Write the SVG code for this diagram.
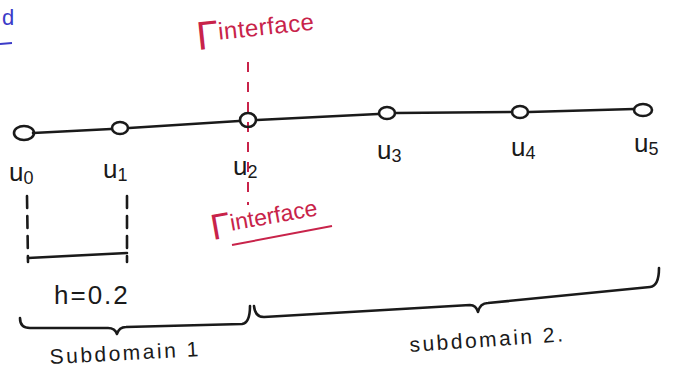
<svg xmlns="http://www.w3.org/2000/svg" width="676" height="371" viewBox="0 0 676 371">
<style>
.ink{fill:none;stroke:#1a1a1a;stroke-width:2.6;stroke-linecap:round;stroke-linejoin:round}
.node{fill:none;stroke:#1a1a1a;stroke-width:2.6}
.lbl{font-family:"Liberation Sans",Arial,sans-serif;font-size:26px;fill:#1a1a1a}
.sub{font-size:18px}
.red{font-family:"Liberation Sans",Arial,sans-serif;fill:#c8234a}
.dash{fill:none;stroke:#1a1a1a;stroke-width:2.6;stroke-dasharray:12 8;stroke-linecap:round}
.rdash{fill:none;stroke:#c8234a;stroke-width:2;stroke-dasharray:10 10}
.note{font-family:"Liberation Sans",Arial,sans-serif;font-size:21px;fill:#1a1a1a;letter-spacing:2.5px}
</style>
<rect width="676" height="371" fill="#ffffff"/>
<g id="blue-marks">
<text x="2" y="25" font-family="Liberation Sans,Arial,sans-serif" font-size="22" fill="#3b3bc8">d</text>
<path d="M0 44 L12 43" stroke="#3b3bc8" stroke-width="2" fill="none"/>
</g>
<g id="connectors">
<path class="ink" d="M33 133 L111 129 M129 128 L239 121 M257 120 L378 114 M396 113 L512 112 M529 112 L634 109"/>
<path class="rdash" d="M248 62 L248 205"/>
<path class="dash" d="M27 196 L28 262 M127 196 L127 262"/>
<path class="ink" d="M28 258 L127 253"/>
<path class="ink" d="M20 318 Q20 328 30 328 L108 328 Q115 328 117 334 Q119 327 126 327 L242 324 Q250 323 250 306"/>
<path class="ink" d="M254 306 Q255 317 264 317 L470 305 Q476 305 478 312 Q480 303 488 303 L650 287 Q659 286 659 268"/>
</g>
<g id="u0"><ellipse class="node" cx="24" cy="133" rx="10" ry="7"/><text class="lbl" x="9" y="181">u<tspan class="sub" dy="3">0</tspan></text></g>
<g id="u1"><ellipse class="node" cx="120" cy="128" rx="8" ry="6"/><text class="lbl" x="103" y="178">u<tspan class="sub" dy="3">1</tspan></text></g>
<g id="u2"><ellipse class="node" cx="248" cy="120" rx="8" ry="7"/><text class="lbl" x="233" y="175">u<tspan class="sub" dy="3">2</tspan></text></g>
<g id="u3"><ellipse class="node" cx="387" cy="113" rx="8" ry="6"/><text class="lbl" x="377" y="159">u<tspan class="sub" dy="3">3</tspan></text></g>
<g id="u4"><ellipse class="node" cx="520" cy="112" rx="8" ry="6"/><text class="lbl" x="511" y="156">u<tspan class="sub" dy="3">4</tspan></text></g>
<g id="u5"><ellipse class="node" cx="643" cy="110" rx="9" ry="6"/><text class="lbl" x="634" y="152">u<tspan class="sub" dy="3">5</tspan></text></g>
<g id="interface-top"><text class="red" x="198" y="50" transform="rotate(-6 198 50)"><tspan font-size="40" font-weight="300">Γ</tspan><tspan font-size="24" dy="-8" letter-spacing="0.5">interface</tspan></text></g>
<g id="interface-bottom"><text class="red" x="213" y="240" transform="rotate(-10 213 240)"><tspan font-size="36">Γ</tspan><tspan font-size="23" dy="-6">interface</tspan></text><path d="M232 245 L332 226" stroke="#c8234a" stroke-width="2" fill="none"/></g>
<g id="h-label"><text class="lbl" x="54" y="304" font-size="28" letter-spacing="2">h=0.2</text></g>
<g id="subdomain1"><text class="note" x="50" y="364" transform="rotate(-3 50 364)">Subdomain 1</text></g>
<g id="subdomain2"><text class="note" x="410" y="352" transform="rotate(-4 410 352)">subdomain 2.</text></g>
</svg>
